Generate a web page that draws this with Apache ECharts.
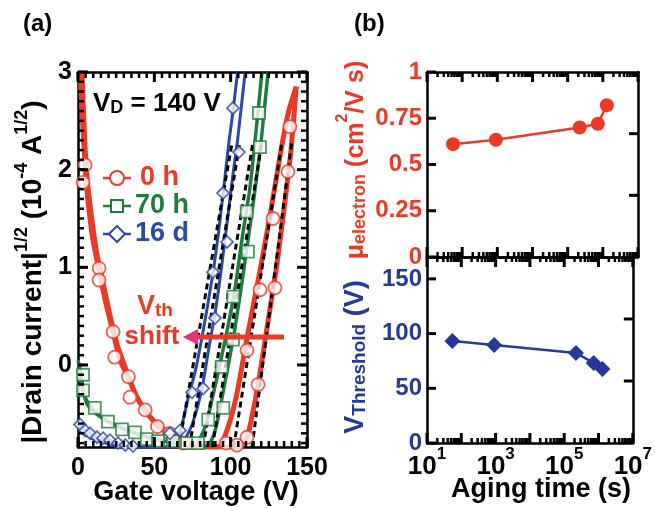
<!DOCTYPE html>
<html><head><meta charset="utf-8">
<script src="https://cdn.jsdelivr.net/npm/echarts@6/dist/echarts.min.js"></script>
<style>html,body{margin:0;padding:0;background:#fff}#c{width:655px;height:508px}</style>
</head><body><div id="c"></div>
<script>
// ---------- panel (a): |Drain current|^1/2 vs gate voltage ----------
const gateTicks = [0, 50, 100, 150];
const currentTicks = [0, 1, 2, 3];
const red0hSweep1 = [[1.3,3.0],[3.3,2.41],[4.6,2.05],[6.5,1.69],[9.8,1.28],[13.8,0.97],[17.7,0.67],[22.9,0.34],[27.5,0.05],[32.7,-0.12],[38.6,-0.33],[43.9,-0.46],[52.4,-0.63],[60.2,-0.70],[68.8,-0.80],[78,-0.84],[92,-0.84],[98,-0.65],[104,-0.3],[111,0.3],[119,0.95],[126,1.55],[133,2.2],[138,2.6],[143,2.85]];
const red0hSweep2 = [[2.6,3.0],[4.4,2.3],[6,1.9],[8.6,1.55],[12.2,1.15],[16.3,0.85],[20.8,0.52],[25.8,0.2],[30.8,-0.02],[36.3,-0.25],[41.8,-0.42],[48.8,-0.56],[56.8,-0.67],[64.8,-0.76],[72.8,-0.83],[80,-0.84],[106,-0.84],[110.7,-0.74],[113,-0.6],[118,-0.2],[124,0.4],[130,1.0],[135,1.6],[139.5,2.2],[143,2.85]];
const green70hSweep1 = [[0,0.05],[2,-0.1],[4,-0.3],[8,-0.42],[14,-0.52],[22,-0.6],[32,-0.67],[45,-0.74],[60,-0.79],[76,-0.84],[80,-0.75],[84,-0.6],[90,-0.2],[97,0.3],[103,0.8],[108,1.35],[112.5,1.8],[116,2.3],[120.5,3.0]];
const green70hSweep2 = [[0,-0.05],[3,-0.25],[6,-0.4],[12,-0.5],[20,-0.58],[30,-0.65],[42,-0.72],[56,-0.78],[70,-0.82],[84,-0.84],[88,-0.75],[91,-0.6],[96,-0.2],[102,0.3],[107,0.8],[112,1.35],[116,1.8],[120,2.3],[124.5,3.0]];
const blue16dSweep1 = [[0,-0.58],[1.3,-0.61],[5,-0.67],[8,-0.70],[12.4,-0.74],[16.4,-0.75],[20.9,-0.77],[26,-0.80],[33,-0.84],[58,-0.84],[62,-0.76],[67,-0.67],[72,-0.35],[77,-0.05],[82,0.35],[88,0.9],[92,1.35],[95,1.75],[99,2.3],[101.8,2.63],[104.5,3.0]];
const blue16dSweep2 = [[0,-0.63],[4,-0.7],[10,-0.76],[18,-0.8],[28,-0.84],[66,-0.84],[70,-0.76],[75,-0.6],[81,-0.26],[86,0.2],[90,0.55],[94,1.0],[98,1.5],[101.5,1.95],[104.5,2.3],[109.5,3.0]];
const fitBlue1 = [[66,-0.84],[101,2.28]];
const fitBlue2 = [[73,-0.84],[106,2.28]];
const fitGreen1 = [[82,-0.84],[114.6,2.28]];
const fitGreen2 = [[88,-0.84],[120.5,2.28]];
const fitRed1 = [[102,-0.84],[133.6,2.28]];
const fitRed2 = [[114,-0.84],[140,2.28]];
const red0hMarkers = [[4.6,2.05],[3.3,1.87],[13.8,0.99],[13.8,0.87],[23,0.34],[24,0.08],[33,-0.12],[34,-0.33],[44,-0.46],[52,-0.63],[60,-0.70],[69,-0.80],[97,-0.80],[104,-0.82],[110.7,-0.74],[110.7,0.15],[117.9,-0.20],[119.2,0.77],[129,0.79],[127.7,1.5],[137.5,1.98],[138.8,2.44]];
const green70hMarkers = [[3.3,-0.10],[3.3,-0.26],[11,-0.44],[19.6,-0.58],[28.8,-0.66],[37.3,-0.69],[45.1,-0.76],[52.4,-0.78],[62.2,-0.78],[71.4,-0.80],[78.6,-0.80],[85.3,-0.56],[95.2,-0.44],[94.1,-0.02],[101.5,0.26],[101.7,0.70],[111.3,1.16],[110.5,1.57],[119.2,2.23],[118.5,2.58]];
const blue16dMarkers = [[1.3,-0.61],[4.6,-0.67],[7.9,-0.70],[12.4,-0.74],[16.4,-0.75],[20.9,-0.77],[26.2,-0.80],[31,-0.82],[36,-0.83],[60.2,-0.70],[66.8,-0.67],[74.7,-0.28],[81.9,-0.24],[89.7,0.48],[88.4,0.95],[97.6,1.26],[95,1.76],[105.4,2.18],[101.5,2.63]];

// ---------- panel (b): vs aging time ----------
const agingTime = [55, 910, 2.2e5, 7.2e5, 1.3e6];
const mobility = [0.61, 0.634, 0.70, 0.72, 0.82];
const vThreshold = [93.2, 89.6, 82.3, 73.1, 67.6];
const mobilityTicks = [0, 0.25, 0.5, 0.75, 1];
const vthTicks = [0, 50, 100, 150];
const timeDecades = [1e1, 1e2, 1e3, 1e4, 1e5, 1e6, 1e7];

const FONT = '"Liberation Sans", Arial, sans-serif';
const RED = '#ea3a26', GREEN = '#1f7d3c', BLUE = '#2b47a8', BLUE2 = '#25399b', PINK = '#e2347e';
const TICK = '#000';

// tick positions (not data)
const currentMinorTicks = []; for (let i = -8; i <= 30; i++) currentMinorTicks.push(i / 10);
const gateMinorTicks = []; for (let v = 0; v <= 150; v += 5) gateMinorTicks.push(v);
const timeMinorTicks = []; for (let n = 1; n < 7; n++) for (let k = 2; k <= 9; k++) timeMinorTicks.push(k * Math.pow(10, n));

const lab = (c, s) => ({ color: c, fontSize: s || 25, fontWeight: 'bold', fontFamily: FONT });

function ax(grid, pos, opts) {
  return Object.assign({ type: 'value', gridIndex: grid, position: pos,
    axisLine: { show: true, onZero: false, lineStyle: { color: '#000', width: 2.5 } }, axisTick: { show: false },
    splitLine: { show: false }, axisLabel: { show: false } }, opts);
}

const xAxis = [
  ax(0, 'bottom', { min: 0, max: 150, interval: 50,
    axisLabel: Object.assign({ show: true, margin: 9, customValues: gateTicks }, lab('#000', 25)) }),
  ax(0, 'top', { min: 0, max: 150 }),
  { type: 'log', logBase: 10, gridIndex: 1, min: 10, max: 1e7, show: false, position: 'bottom', axisLine: { onZero: false } },
  ax(1, 'bottom', { min: 1, max: 7 }),
  ax(1, 'top', { min: 1, max: 7 }),
  { type: 'log', logBase: 10, gridIndex: 2, min: 10, max: 1e7, show: false, position: 'bottom', axisLine: { onZero: false } },
  ax(2, 'bottom', { min: 1, max: 7, interval: 1,
    axisLabel: { show: true, margin: 3,
      formatter: v => (v % 2 === 1) ? '{b|10}{s|' + v + '}' : '',
      rich: { b: Object.assign({ verticalAlign: 'bottom', lineHeight: 34 }, lab('#000', 26)), s: Object.assign({ verticalAlign: 'top' }, lab('#000', 17)) } } }),
  ax(2, 'top', { min: 1, max: 7 }),
];
const yAxis = [
  ax(0, 'left', { min: -0.84, max: 3,
    axisLabel: Object.assign({ show: true, margin: 6, customValues: currentTicks }, lab('#000', 25)) }),
  ax(0, 'right', { min: -0.84, max: 3 }),
  ax(1, 'left', { min: 0, max: 1, interval: 0.25,
    axisLabel: Object.assign({ show: true, margin: 5, customValues: mobilityTicks }, lab(RED, 24)) }),
  ax(1, 'right', { min: 0, max: 1 }),
  ax(2, 'left', { min: 0, max: 170,
    axisLabel: Object.assign({ show: true, margin: 5, customValues: vthTicks }, lab(BLUE2, 24)) }),
  ax(2, 'right', { min: 0, max: 170 }),
];
// axis extents used for tick placement
const xExt = [[0, 150], [0, 150], [10, 1e7], [1, 7], [1, 7], [10, 1e7], [1, 7], [1, 7]];
const yExt = [[-0.84, 3], [-0.84, 3], [0, 1], [0, 1], [0, 170], [0, 170]];

const lineA = (data, color, w) => ({ type: 'line', xAxisIndex: 0, yAxisIndex: 0, data, showSymbol: false, symbol: 'none', smooth: 0.2,
  lineStyle: { color, width: w }, z: 2 });
const fitA = data => ({ type: 'line', xAxisIndex: 0, yAxisIndex: 0, data, symbol: 'none',
  lineStyle: { color: '#000', width: 3, type: [6, 4] }, z: 3 });
const mkA = (data, color, symbol, size) => ({ type: 'scatter', xAxisIndex: 0, yAxisIndex: 0, data, symbol, symbolSize: size,
  itemStyle: { color: '#fff', borderColor: color, borderWidth: 1.8 }, z: 4 });

const series = [
  lineA(red0hSweep1, RED, 5), lineA(red0hSweep2, RED, 5),
  lineA(green70hSweep1, GREEN, 3.5), lineA(green70hSweep2, GREEN, 3.5),
  lineA(blue16dSweep1, BLUE, 3), lineA(blue16dSweep2, BLUE, 3),
  fitA(fitBlue1), fitA(fitBlue2), fitA(fitGreen1), fitA(fitGreen2), fitA(fitRed1), fitA(fitRed2),
  mkA(red0hMarkers, RED, 'circle', 13), mkA(green70hMarkers, GREEN, 'rect', 12), mkA(blue16dMarkers, BLUE, 'diamond', 12),
  { type: 'line', xAxisIndex: 2, yAxisIndex: 2, data: agingTime.map((t, i) => [t, mobility[i]]),
    symbol: 'circle', symbolSize: 14, lineStyle: { color: RED, width: 2.5 }, itemStyle: { color: RED } },
  { type: 'line', xAxisIndex: 5, yAxisIndex: 4, data: agingTime.map((t, i) => [t, vThreshold[i]]),
    symbol: 'diamond', symbolSize: 16, lineStyle: { color: BLUE2, width: 2.5 }, itemStyle: { color: BLUE2 } },
];

const T = (c, s) => ({ fill: c, fontSize: s, fontWeight: 'bold', fontFamily: FONT });
const graphic = [
  { type: 'text', x: 23, y: 12, style: Object.assign({ text: '(a)' }, T('#000', 24)) },
  { type: 'text', x: 354, y: 12, style: Object.assign({ text: '(b)' }, T('#000', 24)) },
  { type: 'text', x: 93, y: 102, z: 10, style: { text: '{a|V}{b|D}{a| = 140 V}', verticalAlign: 'middle', align: 'left',
      rich: { a: Object.assign({ verticalAlign: 'bottom', lineHeight: 30 }, T('#000', 26)), b: Object.assign({ verticalAlign: 'bottom' }, T('#000', 18)) } } },
  { type: 'line', shape: { x1: 103, y1: 178, x2: 131, y2: 178 }, style: { stroke: RED, lineWidth: 2.5 }, z: 10 },
  { type: 'circle', shape: { cx: 117, cy: 178, r: 7 }, style: { stroke: RED, fill: '#fff', lineWidth: 2 }, z: 11 },
  { type: 'text', x: 140, y: 178, z: 10, style: Object.assign({ text: '0 h', verticalAlign: 'middle' }, T(RED, 27)) },
  { type: 'line', shape: { x1: 103, y1: 206, x2: 131, y2: 206 }, style: { stroke: GREEN, lineWidth: 2.5 }, z: 10 },
  { type: 'rect', shape: { x: 111, y: 200, width: 12, height: 12 }, style: { stroke: GREEN, fill: '#fff', lineWidth: 2 }, z: 11 },
  { type: 'text', x: 135, y: 206, z: 10, style: Object.assign({ text: '70 h', verticalAlign: 'middle' }, T(GREEN, 27)) },
  { type: 'line', shape: { x1: 103, y1: 234, x2: 131, y2: 234 }, style: { stroke: BLUE, lineWidth: 2.5 }, z: 10 },
  { type: 'polygon', shape: { points: [[117, 226], [125, 234], [117, 242], [109, 234]] }, style: { stroke: BLUE, fill: '#fff', lineWidth: 2 }, z: 11 },
  { type: 'text', x: 135, y: 234, z: 10, style: Object.assign({ text: '16 d', verticalAlign: 'middle' }, T(BLUE, 27)) },
  { type: 'text', x: 155, y: 305, z: 10, style: { text: '{a|V}{b|th}', align: 'center', verticalAlign: 'middle',
      rich: { a: Object.assign({ verticalAlign: 'bottom', lineHeight: 30 }, T(RED, 27)), b: Object.assign({ verticalAlign: 'bottom' }, T(RED, 19)) } } },
  { type: 'text', x: 152, y: 337, z: 10, style: Object.assign({ text: 'shift', align: 'center', verticalAlign: 'middle' }, T(RED, 26)) },
  { type: 'line', shape: { x1: 284, y1: 337, x2: 194, y2: 337 }, style: { stroke: RED, lineWidth: 5 }, z: 10 },
  { type: 'polygon', shape: { points: [[183, 337], [198, 329], [198, 345]] }, style: { fill: PINK }, z: 11 },
  { type: 'text', x: 30, y: 272, rotation: Math.PI / 2, z: 10, style: { text: '{m||Drain current|}{s|1/2}{m| (10}{s|-4}{m| A}{s|1/2}{m|)}', align: 'center', verticalAlign: 'middle',
      rich: { m: Object.assign({ verticalAlign: 'bottom', lineHeight: 34 }, T('#000', 28)), s: Object.assign({ verticalAlign: 'top' }, T('#000', 18)) } } },
  { type: 'text', x: 196, y: 493, z: 10, style: Object.assign({ text: 'Gate voltage (V)', align: 'center', verticalAlign: 'middle' }, T('#000', 27)) },
  { type: 'text', x: 541, y: 490, z: 10, style: Object.assign({ text: 'Aging time (s)', align: 'center', verticalAlign: 'middle' }, T('#000', 27)) },
  { type: 'text', x: 352, y: 160, rotation: Math.PI / 2, z: 10, style: { text: '{m|\u03bc}{b|electron}{m| (cm}{s|2}{m|/V s)}', align: 'center', verticalAlign: 'middle',
      rich: { m: Object.assign({ verticalAlign: 'bottom', lineHeight: 34 }, T(RED, 25)), b: Object.assign({ verticalAlign: 'bottom' }, T(RED, 18)), s: Object.assign({ verticalAlign: 'top' }, T(RED, 16)) } } },
  { type: 'text', x: 352, y: 357, rotation: Math.PI / 2, z: 10, style: { text: '{m|V}{b|Threshold}{m| (V)}', align: 'center', verticalAlign: 'middle',
      rich: { m: Object.assign({ verticalAlign: 'bottom', lineHeight: 34 }, T(BLUE2, 27)), b: Object.assign({ verticalAlign: 'bottom' }, T(BLUE2, 19)) } } },
];

const chart = echarts.init(document.getElementById('c'), null, { renderer: 'canvas' });
chart.setOption({
  animation: false,
  backgroundColor: '#fff',
  grid: [
    { left: 78, top: 72, width: 229, height: 375 },
    { left: 427, top: 72, width: 211, height: 185 },
    { left: 427, top: 257, width: 211, height: 186 },
  ],
  xAxis, yAxis, series, graphic,
});

// inward axis ticks placed through the axes' own scales
const tickEls = [];
try {
  const px = (i, v) => chart.convertToPixel({ xAxisIndex: i }, v);
  const py = (i, v) => chart.convertToPixel({ yAxisIndex: i }, v);
  const addTick = (x1, y1, x2, y2, w) => tickEls.push({ type: 'line', z: 30, shape: { x1, y1, x2, y2 }, style: { stroke: TICK, lineWidth: w } });
  const xTicks = (xi, yi, vals, len, w) => {
    const yb = py(yi, yExt[yi][0]), yt = py(yi, yExt[yi][1]);
    vals.forEach(v => { const x = px(xi, v); addTick(x, yb, x, yb - len, w); addTick(x, yt, x, yt + len, w); });
  };
  const yTicks = (xi, yi, vals, side, len, w) => {
    const xe = side === 'left' ? px(xi, xExt[xi][0]) : px(xi, xExt[xi][1]);
    const d = side === 'left' ? 1 : -1;
    vals.forEach(v => { const y = py(yi, v); addTick(xe, y, xe + d * len, y, w); });
  };
  xTicks(0, 0, gateTicks, 10, 3);
  xTicks(0, 0, gateMinorTicks, 6, 2.5);
  yTicks(0, 0, currentTicks, 'left', 10, 3);
  yTicks(0, 0, currentMinorTicks, 'left', 6, 2.5);
  yTicks(0, 0, currentTicks, 'right', 10, 3);
  yTicks(0, 0, currentMinorTicks, 'right', 6, 2.5);
  xTicks(2, 2, timeDecades, 10, 3);
  xTicks(2, 2, timeMinorTicks, 5, 2.5);
  xTicks(5, 4, timeDecades, 10, 3);
  xTicks(5, 4, timeMinorTicks, 5, 2.5);
  yTicks(2, 2, mobilityTicks, 'left', 9, 3);
  yTicks(2, 2, [1/3, 2/3], 'right', 9, 3);
  yTicks(5, 4, vthTicks, 'left', 9, 3);
  yTicks(5, 4, [170/3, 340/3], 'right', 9, 3);
} catch (e) { /* ticks are decorative */ }
chart.setOption({ graphic: graphic.concat(tickEls) });
</script></body></html>
